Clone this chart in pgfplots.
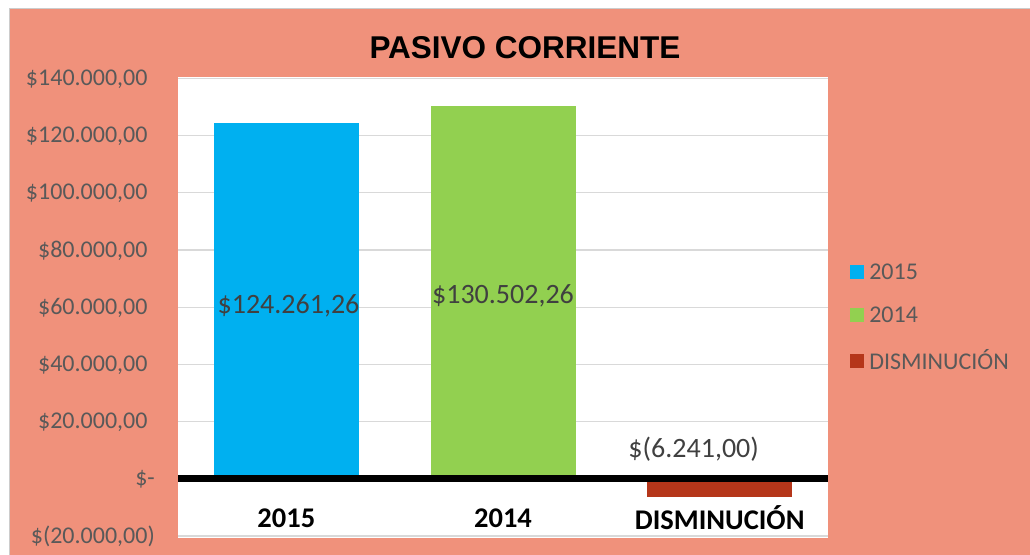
\documentclass[border=0pt]{standalone}
\usepackage{pgfplots}
\pgfplotsset{compat=1.18}
\usepackage{fontspec}
\setmainfont{Carlito}
\newfontfamily\arialfont{Liberation Sans}
\definecolor{salmon}{RGB}{240,145,123}
\definecolor{cblue}{RGB}{0,176,240}
\definecolor{cgreen}{RGB}{146,208,80}
\definecolor{cred}{RGB}{181,54,26}
\definecolor{tgray}{RGB}{89,89,89}
\definecolor{dgray}{RGB}{64,64,64}
\definecolor{gridc}{RGB}{217,217,217}
\pgfplotsset{sqlegend/.style={legend image code/.code={\fill[##1] (0bp,-7bp) rectangle (14bp,7bp);}}}
\begin{document}
\begin{tikzpicture}[x=1bp,y=1bp]
\fill[white] (0,0) rectangle (1030,555);
\fill[salmon] (9,0) rectangle (1030,546);
\draw[gray!40, line width=1bp] (9,0) -- (9,546) -- (1030,546);
\node[font=\arialfont\bfseries\fontsize{31.5bp}{36bp}\selectfont] at (525,507) {PASIVO CORRIENTE};
\begin{axis}[at={(178bp,17bp)}, anchor=south west, scale only axis,
  width=650bp, height=461bp,
  xmin=-0.5, xmax=2.5, ymin=-20700, ymax=140500,
  scaled y ticks=false,
  axis background/.style={fill=white},
  axis line style={draw=none}, tick style={draw=none},
  ymajorgrids, grid style={gridc, line width=1.2bp},
  xtick={0,1,2}, xticklabels={2015,2014,DISMINUCIÓN},
  xticklabel style={font=\bfseries\fontsize{28.5bp}{32bp}\selectfont, text=black, anchor=center, yshift=20bp},
  ytick={-20000,0,...,140000},
  yticklabels={\$(20.000{,}00),\$-\hspace{17bp},\$20.000{,}00\phantom{)},\$40.000{,}00\phantom{)},\$60.000{,}00\phantom{)},\$80.000{,}00\phantom{)},\$100.000{,}00\phantom{)},\$120.000{,}00\phantom{)},\$140.000{,}00\phantom{)}},
  yticklabel style={font=\fontsize{24bp}{28bp}\selectfont, text=tgray, anchor=east, inner sep=0pt, xshift=-23bp},
  legend style={at={(1.034,0.478)}, anchor=west, draw=none, fill=none, inner sep=0pt,
    font=\fontsize{24bp}{28bp}\selectfont, text=tgray, row sep=22bp,
    /tikz/every odd column/.append style={column sep=3bp}},
  legend cell align=left,
  clip=false,
]
\addplot[ybar, fill=cblue, draw=none, bar width=145bp, bar shift=0pt, sqlegend] coordinates {(0,124261.26)};
\addplot[ybar, fill=cgreen, draw=none, bar width=145bp, bar shift=0pt, sqlegend] coordinates {(1,130502.26)};
\addplot[ybar, fill=cred, draw=none, bar width=145bp, bar shift=0pt, sqlegend] coordinates {(2,-6241.00)};
\legend{2015,2014,DISMINUCIÓN}
\draw[black, line width=7bp] (axis cs:-0.5,0) -- (axis cs:2.5,0);
\node[font=\fontsize{28bp}{32bp}\selectfont, text=dgray] at (axis cs:0.01,60500) {\$124.261,26};
\node[font=\fontsize{28bp}{32bp}\selectfont, text=dgray] at (axis cs:1.0,64000) {\$130.502,26};
\node[font=\fontsize{28bp}{32bp}\selectfont, text=dgray] at (axis cs:1.88,10490) {\$(6.241,00)};
\end{axis}
\pgfresetboundingbox
\path[use as bounding box] (0,0) rectangle (1030,555);
\end{tikzpicture}
\end{document}
